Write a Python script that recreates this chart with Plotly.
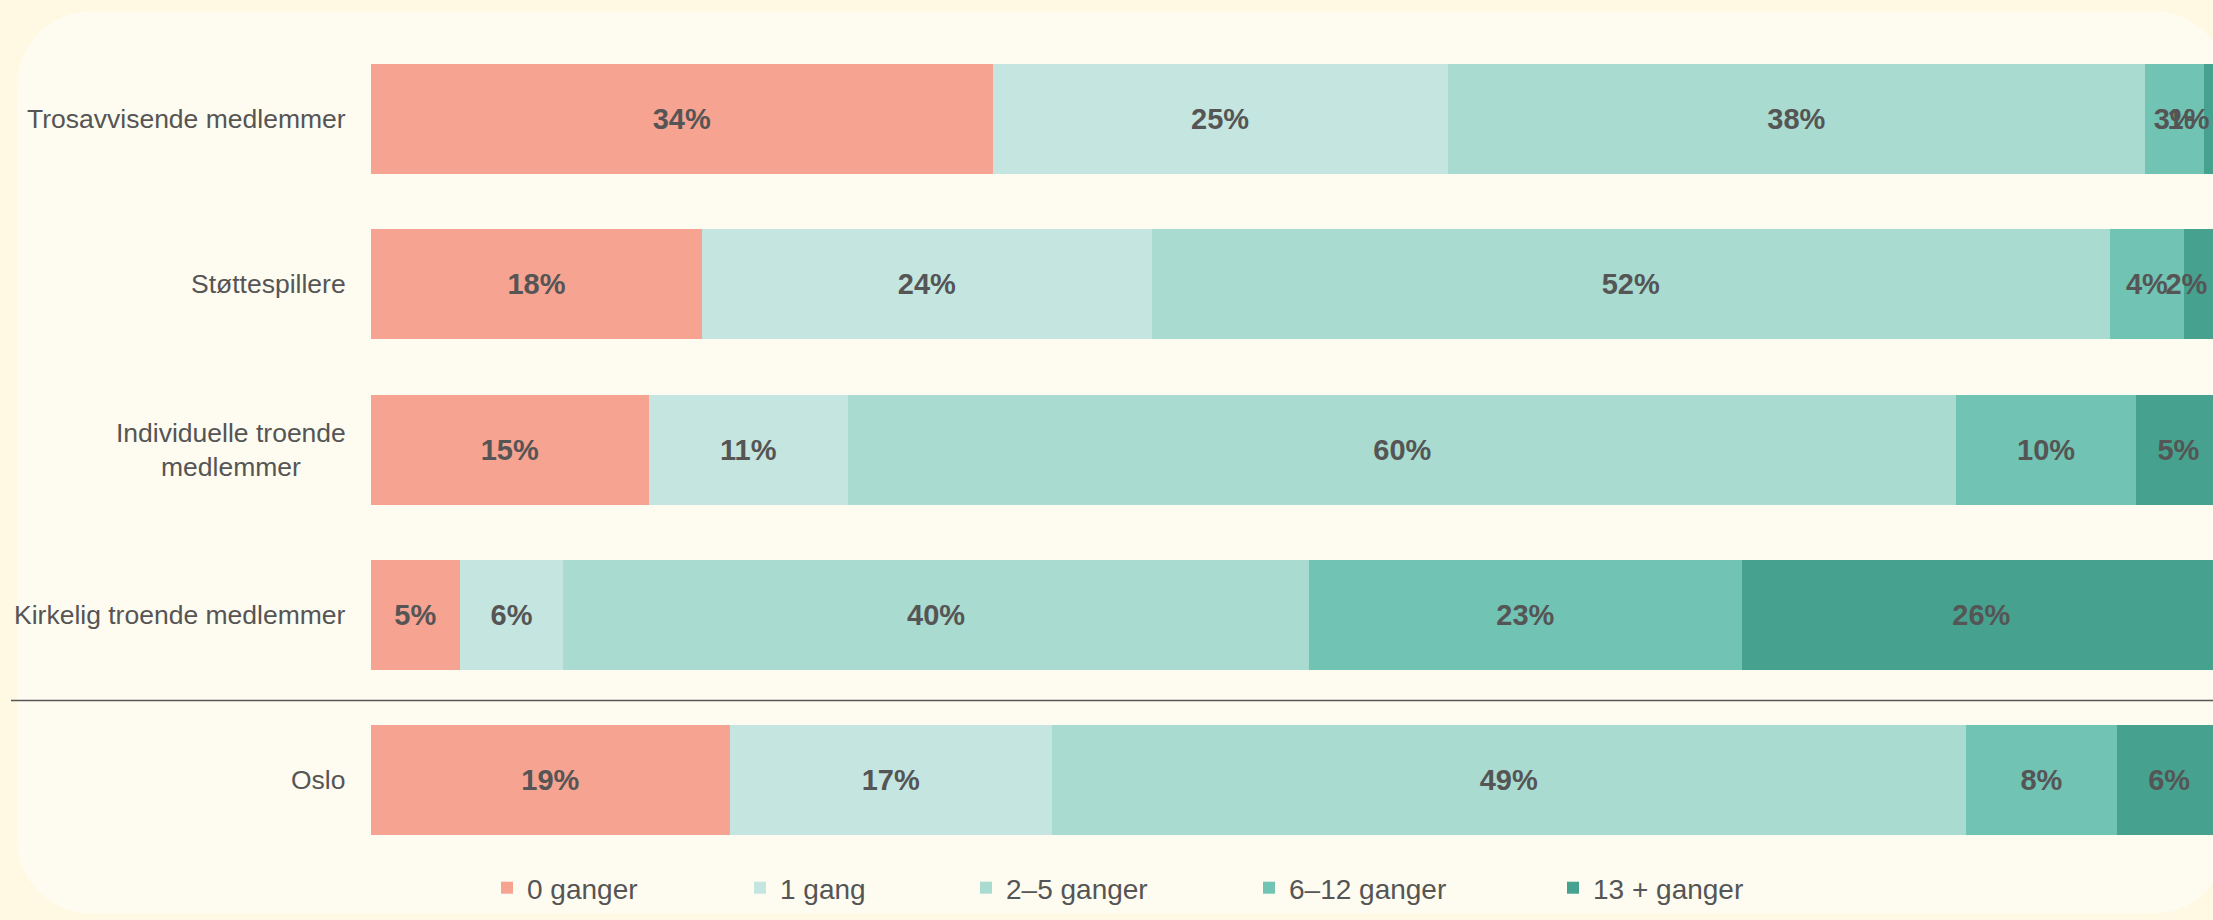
import math
import plotly.graph_objects as go

# ---------------- data ----------------
categories = ["Trosavvisende medlemmer", "Støttespillere",
              "Individuelle troende medlemmer", "Kirkelig troende medlemmer", "Oslo"]
category_labels = ["Trosavvisende medlemmer", "Støttespillere",
                   "Individuelle troende<br>medlemmer", "Kirkelig troende medlemmer", "Oslo"]
series_names = ["0 ganger", "1 gang", "2–5 ganger", "6–12 ganger", "13 + ganger"]

v_0 = [33.6, 17.9, 15.0, 4.8, 19.4]
v_1 = [24.6, 24.3, 10.8, 5.6, 17.4]
v_2_5 = [37.7, 51.8, 59.9, 40.3, 49.4]
v_6_12 = [3.2, 4.0, 9.7, 23.4, 8.2]
v_13 = [0.9, 2.0, 4.6, 25.9, 5.6]
series_values = [v_0, v_1, v_2_5, v_6_12, v_13]

# ---------------- style ----------------
colors = ["#F6A392", "#C5E6E0", "#A9DBD0", "#71C3B4", "#46A18F"]
W, H = 2213, 920
ML, MR, MT, MB = 371, 0, 36, 50
PW, PH = W - ML - MR, H - MT - MB
PXU = 18.5                      # pixels per percentage unit on the x axis
TXT = "#555555"
FONT = "Liberation Sans, Arial, sans-serif"
LBL_SIZE = 29
legend_text_x = [487, 740, 966, 1249, 1553]
legend_y_px = 888


def px2paper(x, y):
    return (x - ML) / PW, (H - MB - y) / PH


def label_for(v, left):
    """Rounded % label; labels that would overflow the plot's right edge are
    justified back inside (like the original chart) using trailing nbsp."""
    lab = f"{v:.0f}%"
    width = LBL_SIZE * (0.556 * (len(lab) - 1) + 0.889)
    right = ML + (left + v / 2) * PXU + width / 2
    over = right - (W - 2)
    if over > 0:
        n = math.ceil(2 * over / (0.278 * LBL_SIZE))
        lab = lab + "\u00a0" * n
    return lab


fig = go.Figure()
cum = [0.0] * len(categories)
for i, (name, vals) in enumerate(zip(series_names, series_values)):
    lg = "legend" if i == 0 else f"legend{i + 1}"
    labels = [label_for(v, c) for v, c in zip(vals, cum)]
    cum = [c + v for c, v in zip(cum, vals)]
    fig.add_trace(go.Bar(
        y=categories, x=vals, name=name, orientation="h",
        marker=dict(color=colors[i], line=dict(width=0)),
        text=labels, texttemplate="%{text}", textposition="inside", textangle=0,
        insidetextanchor="middle", constraintext="none",
        textfont=dict(family=FONT, size=LBL_SIZE, color=TXT, weight="bold"),
        width=0.665, legend=lg, hoverinfo="skip",
    ))

# category labels
annotations = []
for cat, lab in zip(categories, category_labels):
    annotations.append(dict(
        x=(348 - ML) / PW, xref="paper", y=cat, yref="y",
        text=lab, showarrow=False, xanchor="right", yanchor="middle",
        align="center", font=dict(family=FONT, size=26.5, color=TXT)))

# rounded panel background
x0, y0, x1, y1, r = 17, 11, 2228, 921, 75
k = 0.5523 * r


def P(x, y):
    a, b = px2paper(x, y)
    return f"{a:.6f},{b:.6f}"


path = (f"M {P(x0 + r, y0)} L {P(x1 - r, y0)} "
        f"C {P(x1 - r + k, y0)} {P(x1, y0 + r - k)} {P(x1, y0 + r)} "
        f"L {P(x1, y1 - r)} "
        f"C {P(x1, y1 - r + k)} {P(x1 - r + k, y1)} {P(x1 - r, y1)} "
        f"L {P(x0 + r, y1)} "
        f"C {P(x0 + r - k, y1)} {P(x0, y1 - r + k)} {P(x0, y1 - r)} "
        f"L {P(x0, y0 + r)} "
        f"C {P(x0, y0 + r - k)} {P(x0 + r - k, y0)} {P(x0 + r, y0)} Z")

sx0, sy = px2paper(11, 706)
shapes = [
    dict(type="path", path=path, xref="paper", yref="paper",
         fillcolor="#FEFCF0", line=dict(width=0), layer="below"),
    dict(type="line", xref="paper", yref="paper", x0=sx0, x1=1, y0=sy, y1=sy,
         line=dict(color="#555555", width=1.5)),
]

layout = dict(
    width=W, height=H,
    margin=dict(l=ML, r=MR, t=MT, b=MB, pad=0),
    paper_bgcolor="#FFF8E2", plot_bgcolor="rgba(0,0,0,0)",
    barmode="stack", bargap=0.335,
    xaxis=dict(range=[0, PW / PXU], visible=False, fixedrange=True),
    yaxis=dict(categoryorder="array", categoryarray=categories,
               autorange="reversed", showticklabels=False, showgrid=False,
               zeroline=False, showline=False, ticks="", fixedrange=True),
    annotations=annotations, shapes=shapes,
    font=dict(family=FONT, color=TXT),
    showlegend=True,
)
for i in range(5):
    key = "legend" if i == 0 else f"legend{i + 1}"
    layout[key] = dict(
        orientation="h", xref="container", yref="container",
        x=legend_text_x[i] / W, y=1 - legend_y_px / H,
        xanchor="left", yanchor="middle",
        bgcolor="rgba(0,0,0,0)", borderwidth=0,
        font=dict(family=FONT, size=28, color=TXT),
        itemwidth=30,
    )
fig.update_layout(**layout)

fig.write_html(
    "out.html",
    config={"displayModeBar": False},
    post_script="document.body.style.margin='0';"
                "document.body.style.overflow='hidden';"
                "document.body.style.background='#FFF8E2';",
)
